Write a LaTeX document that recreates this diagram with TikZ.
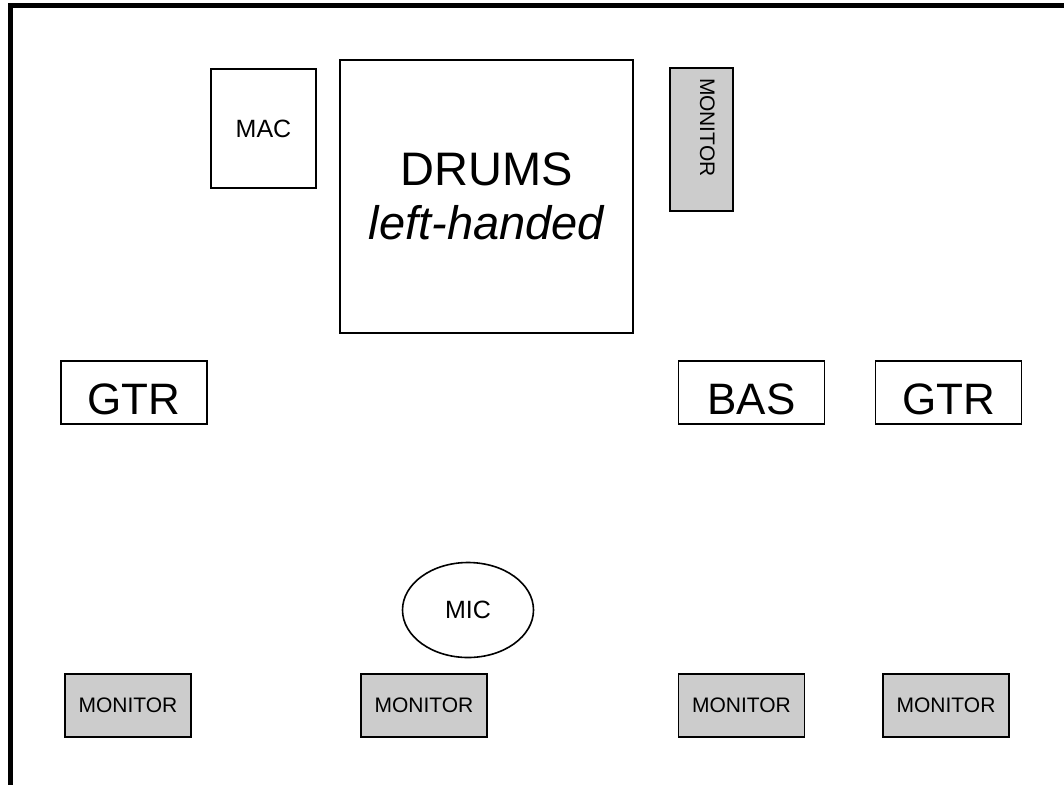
\documentclass[tikz,border=0pt]{standalone}
\usepackage{fontspec}
\setmainfont{Liberation Sans}
\usetikzlibrary{shapes.geometric}
\definecolor{monfill}{gray}{0.8}
\begin{document}
\begin{tikzpicture}[
  x=1pt, y=-1pt,
  box/.style={draw, line width=1.6pt, inner sep=0pt, align=center},
  player/.style={box, minimum width=146pt, text height=53pt, text depth=10pt,
                 font=\fontsize{44}{44}\selectfont},
  monitor/.style={box, fill=monfill, minimum width=126pt, minimum height=63pt,
                  font=\fontsize{21}{21}\selectfont}
]
\useasboundingbox (0,0) rectangle (1064,784);
% stage frame
\draw[line width=5pt] (10,800) -- (10,6) -- (1080,6);

\node[box, minimum width=105pt, minimum height=119pt,
      font=\fontsize{25}{25}\selectfont] (mac) at (263.5,128.5) {MAC};
\node[box, minimum width=293pt, minimum height=273pt,
      font=\fontsize{47}{54}\selectfont] (drums) at (486.5,196.5)
      {DRUMS\\ \itshape left-handed};
\node[monitor, rotate=-90, minimum width=143pt, text width=123pt,
      text height=15pt, text depth=12pt,
      inner xsep=10pt, align=left] (montop) at (701.5,139.5) {MONITOR};

\node[player] (gtrl) at (134,392.5)   {GTR};
\node[player] (bas)  at (751.5,392.5) {BAS};
\node[player] (gtrr) at (948.5,392.5) {GTR};

\node[draw, ellipse, line width=1.6pt, inner sep=0pt, minimum width=131pt,
      minimum height=95pt, font=\fontsize{25}{25}\selectfont] (mic) at (468,610) {MIC};

\node[monitor] (mona) at (128,705.5)   {MONITOR};
\node[monitor] (monb) at (424,705.5)   {MONITOR};
\node[monitor] (monc) at (741.5,705.5) {MONITOR};
\node[monitor] (mond) at (946,705.5)   {MONITOR};
\end{tikzpicture}
\end{document}
